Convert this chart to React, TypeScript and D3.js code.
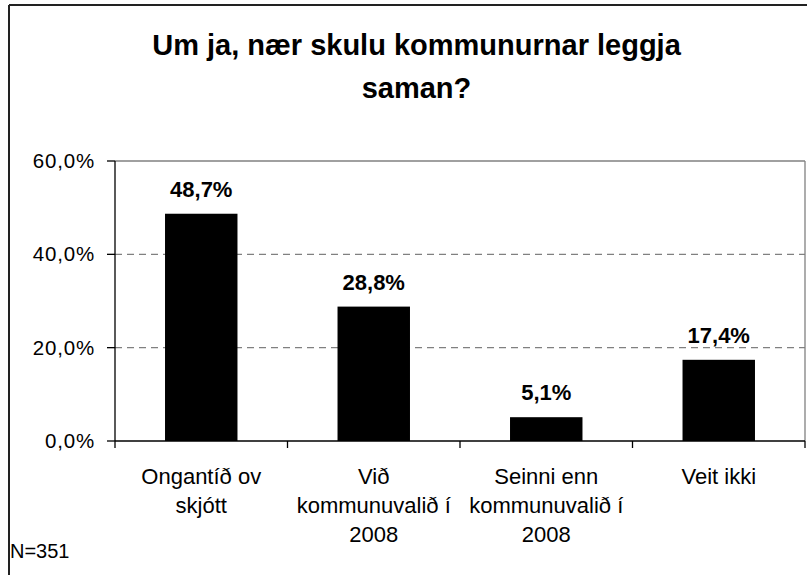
import React from "react";
import * as d3 from "d3";

const categories: string[][] = [
  ["Ongantíð ov", "skjótt"],
  ["Við", "kommunuvalið í", "2008"],
  ["Seinni enn", "kommunuvalið í", "2008"],
  ["Veit ikki"],
];
const values: number[] = [48.7, 28.8, 5.1, 17.4];
const valueLabels: string[] = ["48,7%", "28,8%", "5,1%", "17,4%"];
const yTicks: number[] = [0, 20, 40, 60];
const yTickLabels: string[] = ["0,0%", "20,0%", "40,0%", "60,0%"];
const titleLines: string[] = ["Um ja, nær skulu kommunurnar leggja", "saman?"];
const note = "N=351";

const W = 811;
const H = 575;
const plot = { left: 115, right: 805, top: 161, bottom: 441 };
const font = "'Liberation Sans', Arial, sans-serif";

export default function App() {
  const x = d3
    .scaleBand<number>()
    .domain(values.map((_, i) => i))
    .range([plot.left, plot.right])
    .paddingInner(0.58)
    .paddingOuter(0.29);
  const band = d3.scaleBand<number>().domain(values.map((_, i) => i)).range([plot.left, plot.right]);
  const y = d3.scaleLinear().domain([0, 60]).range([plot.bottom, plot.top]);

  return (
    <svg
      width={W}
      height={H}
      style={{ position: "absolute", left: 0, top: 0, background: "#fff" }}
      fontFamily={font}
    >
      <rect x={0} y={0} width={W} height={H} fill="#fff" />
      {/* outer frame (top and left visible) */}
      <line x1={9} y1={5} x2={807} y2={5} stroke="#222" strokeWidth={2} />
      <line x1={9} y1={5} x2={9} y2={H} stroke="#222" strokeWidth={2} />

      {/* title */}
      {titleLines.map((t, i) => (
        <text
          key={i}
          x={416.5}
          y={55 + i * 43}
          textAnchor="middle"
          fontSize={29}
          fontWeight="bold"
          fill="#000"
        >
          {t}
        </text>
      ))}

      {/* plot border gray top/right */}
      <line x1={plot.left} y1={plot.top} x2={plot.right} y2={plot.top} stroke="#808080" strokeWidth={1.3} />
      <line x1={plot.right} y1={plot.top} x2={plot.right} y2={plot.bottom} stroke="#808080" strokeWidth={1.3} />

      {/* gridlines */}
      {yTicks
        .filter((v) => v > 0 && v < 60)
        .map((v) => (
          <line
            key={v}
            x1={plot.left}
            x2={plot.right}
            y1={y(v)}
            y2={y(v)}
            stroke="#808080"
            strokeWidth={1.3}
            strokeDasharray="7,5"
          />
        ))}

      {/* bars */}
      {values.map((v, i) => (
        <rect key={i} x={x(i)} y={y(v)} width={x.bandwidth()} height={y(0) - y(v)} fill="#000" />
      ))}

      {/* value labels */}
      {values.map((v, i) => (
        <text
          key={i}
          x={(x(i) as number) + x.bandwidth() / 2}
          y={y(v) - 17}
          textAnchor="middle"
          fontSize={22}
          fontWeight="bold"
          fill="#000"
        >
          {valueLabels[i]}
        </text>
      ))}

      {/* axes */}
      <line x1={plot.left} y1={plot.top} x2={plot.left} y2={plot.bottom + 7} stroke="#000" strokeWidth={1.3} />
      <line x1={plot.left} y1={plot.bottom} x2={plot.right} y2={plot.bottom} stroke="#000" strokeWidth={1.3} />
      {yTicks.map((v, i) => (
        <g key={v}>
          <line x1={plot.left - 8} x2={plot.left} y1={y(v)} y2={y(v)} stroke="#000" strokeWidth={1.3} />
          <text x={95} y={y(v) + 7} textAnchor="end" fontSize={20.5} letterSpacing={0.8} fill="#000">
            {yTickLabels[i]}
          </text>
        </g>
      ))}
      {values.map((_, i) => (
        <line
          key={i}
          x1={(band(i) as number) + band.bandwidth()}
          x2={(band(i) as number) + band.bandwidth()}
          y1={plot.bottom}
          y2={plot.bottom + 7}
          stroke="#000"
          strokeWidth={1.3}
        />
      ))}

      {/* category labels */}
      {categories.map((lines, i) => (
        <text
          key={i}
          x={(band(i) as number) + band.bandwidth() / 2}
          textAnchor="middle"
          fontSize={22}
          fill="#000"
        >
          {lines.map((l, j) => (
            <tspan key={j} x={(band(i) as number) + band.bandwidth() / 2} y={484 + j * 29}>
              {l}
            </tspan>
          ))}
        </text>
      ))}

      <text x={10} y={558} fontSize={20} fill="#000">
        {note}
      </text>
    </svg>
  );
}
